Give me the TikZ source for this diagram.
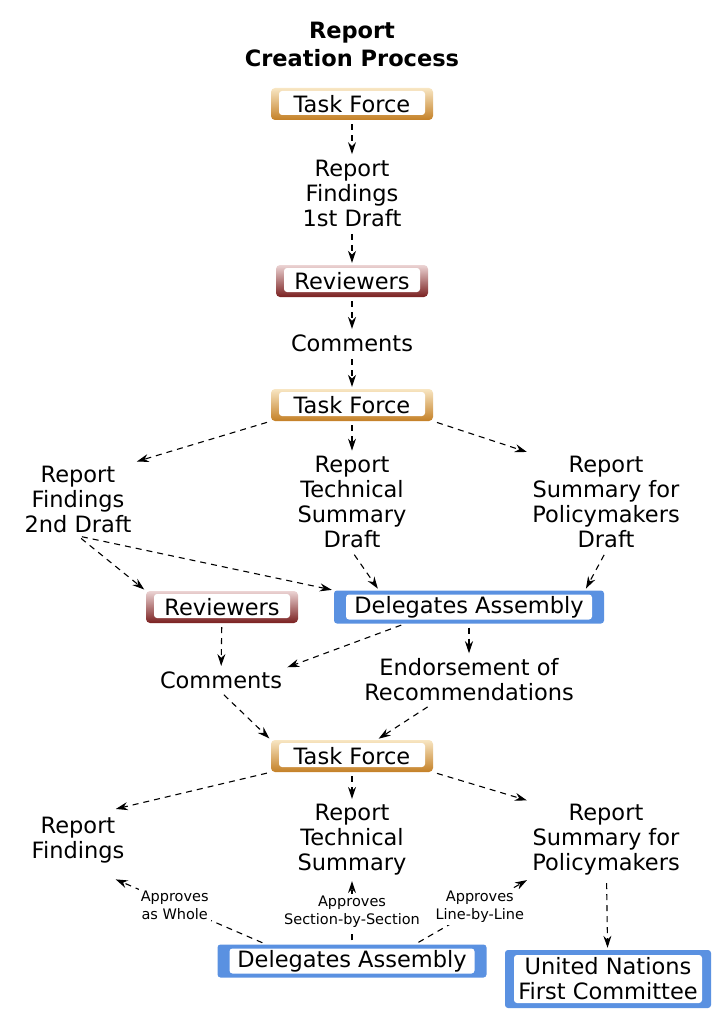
\documentclass[tikz,border=0pt]{standalone}
\usepackage{fontspec}
\setmainfont{DejaVu Sans}
\usetikzlibrary{arrows.meta}
\definecolor{tflight}{RGB}{248,230,195}
\definecolor{tfdark}{RGB}{196,128,38}
\definecolor{revlight}{RGB}{236,212,212}
\definecolor{revdark}{RGB}{122,32,32}
\definecolor{delblue}{RGB}{90,145,225}
\tikzset{
  inset/.style n args={4}{path picture={\fill[white,rounded corners=3pt]
      ([shift={(#1pt,-#2pt)}]path picture bounding box.north west) rectangle
      ([shift={(-#3pt,#4pt)}]path picture bounding box.south east);}},
  taskbox/.style={rounded corners=4pt, top color=tflight, bottom color=tfdark,
      minimum width=162pt, minimum height=32pt, inner sep=1pt, inset={8}{3}{8}{5}},
  revbox/.style={rounded corners=4pt, top color=revlight, bottom color=revdark,
      minimum width=152pt, minimum height=32pt, inner sep=1pt, inset={8}{3}{8}{5}},
  delbox/.style={rounded corners=3pt, fill=delblue, inner sep=1pt,
      minimum height=33pt, inset={12}{4}{12}{4}},
  txt/.style={align=center, font=\fontsize{22.5}{25}\selectfont},
  small/.style={align=center, fill=white, inner sep=2pt, font=\fontsize{14.5}{18}\selectfont},
  flow/.style={-{Stealth[length=12pt,width=8pt]}, dash pattern=on 6pt off 5pt,
      line width=1.1pt, shorten >=2pt, shorten <=4pt}
}
\begin{document}
\begin{tikzpicture}[x=1pt,y=-1pt]
    \useasboundingbox (0,0) rectangle (723,1022);
    % title
    \node[align=center, font=\fontsize{22.5}{28}\bfseries] (title) at (352,44) {Report\\Creation Process};

    % first round
    \node[taskbox, txt] (tfA) at (352,104) {Task Force};
    \node[txt] (draftA) at (352,193) {Report\\Findings\\1st Draft};
    \node[revbox, txt] (revA) at (352,281) {Reviewers};
    \node[txt] (comA) at (352,343) {Comments};
    \node[taskbox, txt] (tfB) at (352,405) {Task Force};

    % second round
    \node[txt] (findB) at (78,499) {Report\\Findings\\2nd Draft};
    \node[txt] (techB) at (352,502) {Report\\Technical\\Summary\\Draft};
    \node[txt] (spmB) at (606,502) {Report\\Summary for\\Policymakers\\Draft};
    \node[revbox, txt] (revB) at (222,607) {Reviewers};
    \node[delbox, txt, minimum width=270pt] (delA) at (469,607) {Delegates Assembly};
    \node[txt] (comB) at (221,680) {Comments};
    \node[txt] (endorse) at (469,680) {Endorsement of\\Recommendations};
    \node[taskbox, txt] (tfC) at (352,756) {Task Force};

    % final round
    \node[txt] (findC) at (78,840) {Report\\Findings};
    \node[txt] (techC) at (352,840) {Report\\Technical\\Summary};
    \node[txt] (spmC) at (606,840) {Report\\Summary for\\Policymakers};
    \node[delbox, txt, minimum width=269pt] (delB) at (352,961) {Delegates Assembly};
    \node[delbox, txt, minimum width=206pt, minimum height=58pt, inset={9}{5}{9}{5}]
        (un) at (608,979) {United Nations\\First Committee};

    % straight links
    \foreach \from/\to in {tfA/draftA, draftA/revA, revA/comA, comA/tfB,
                           tfB/techB, revB/comB, endorse/tfC, tfC/techC}
        \draw[flow] (\from) -- (\to);
    \draw[flow] (delA.south -| endorse) -- (endorse);
    \draw[flow] (spmC) -- (un);

    % diagonal links
    \draw[flow] (tfB.south west) -- (findB.north east);
    \draw[flow] (tfB.south east) -- (spmB.north west);
    \draw[flow] (findB.south) -- (revB.north west);
    \draw[flow] (findB.south) -- (delA.north west);
    \draw[flow] (techB.south) -- ([xshift=-90pt]delA.north);
    \draw[flow] (spmB.south) -- ([xshift=116pt]delA.north);
    \draw[flow] ([xshift=-64pt]delA.south) -- (comB.north east);
    \draw[flow] (comB.south) -- (tfC.north west);
    \draw[flow] (tfC.south west) -- ([shift={(-14pt,4pt)}]findC.north east);
    \draw[flow] (tfC.south east) -- (spmC.north west);

    % approvals
    \draw[flow] ([xshift=-86pt]delB.north) -- node[small, pos=0.6] {Approves\\as Whole} ([shift={(-14pt,-12pt)}]findC.south east);
    \draw[flow] (delB.north) -- node[small] {Approves\\Section-by-Section} (techC.south);
    \draw[flow] ([xshift=63pt]delB.north) -- node[small, pos=0.57] {Approves\\Line-by-Line} (spmC.south west);
\end{tikzpicture}
\end{document}
